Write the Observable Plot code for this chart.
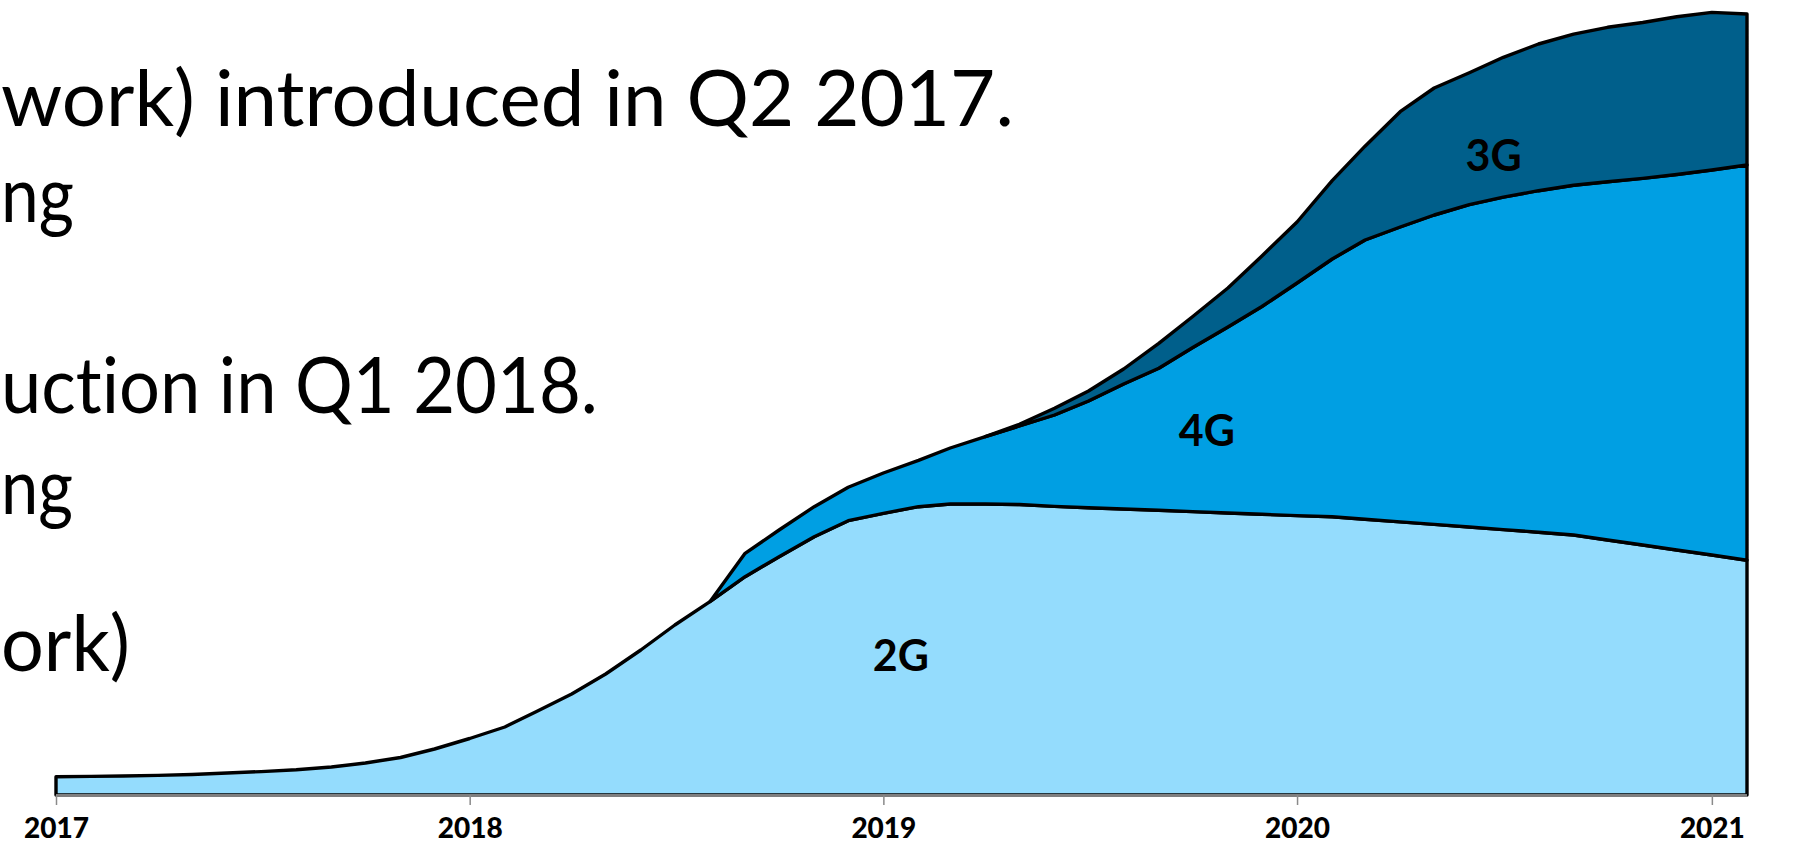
<!DOCTYPE html>
<html><head><meta charset="utf-8">
<script src="https://cdn.jsdelivr.net/npm/d3@7"></script>
<script src="https://cdn.jsdelivr.net/npm/@observablehq/plot@0.6"></script>
<style>
html,body{margin:0;padding:0;background:#fff;overflow:hidden}
#chart{position:relative;width:1797px;height:847px}
svg{overflow:visible}
svg text{font-variant-ligatures:none;font-feature-settings:"liga" 0,"clig" 0}
</style>
</head><body><div id="chart"></div>
<script>
// ---- data (arbitrary subscriber units) ----
const techs  = ["2G", "4G", "3G"];
const colors = ["#94DCFD", "#009FE3", "#005F8B"];
// monthly points, Jan 2017 .. Feb 2021
const months = d3.utcMonth.range(new Date(Date.UTC(2017, 0, 1)), new Date(Date.UTC(2021, 1, 2)));
const g2 = [18.3, 18.6, 19, 19.6, 20.5, 22, 23.4, 25.3, 28, 32,
            37.5, 46, 56.5, 68, 83.5, 101, 121, 145, 170, 193.3,
            218.3, 238.3, 258.3, 274.3, 281.7, 288.3, 291, 291, 290.5, 288.6,
            287.3, 286, 284.7, 283.4, 282, 280.7, 279.4, 278.3, 275.7, 273.1,
            270.6, 268, 265.4, 262.8, 260, 255, 250, 245, 240, 234.7];
const g4Start = 19; // Aug 2018
const g4 = [0, 23.4, 26.7, 30, 33.4, 40.3, 46.3, 56, 67.3, 78.5,
            91.4, 106.7, 125, 142, 164.1, 186, 207.8, 232.6, 257.7, 279.3,
            294.9, 309.4, 322.3, 332.4, 341.5, 349.8, 358.2, 366.6, 375.5, 385, 395.3];
const g3Start = 27; // Apr 2019
const g3 = [0, 1.7, 6.7, 10, 15, 25, 31, 39, 50.5, 61,
            78.3, 93.8, 115.3, 127, 131.9, 139.9, 146.7, 151, 154.5, 155.9,
            157.7, 157.6, 151];
const years = [2017, 2018, 2019, 2020, 2021];
const areaLabels = [
  {tech: "2G", date: "2019-01-16", value: 138},
  {tech: "4G", date: "2019-10-13", value: 363},
  {tech: "3G", date: "2020-06-22", value: 638}
];
const slideLines = [
  {text: "work) introduced in Q2 2017.", x: 1, right: 1014, baseline: 126},
  {text: "ng",                           x: 1, right: 74,   baseline: 222},
  {text: "uction in Q1 2018.",           x: 1, right: 598,  baseline: 413},
  {text: "ng",                           x: 1, right: 73,   baseline: 514},
  {text: "ork)",                         x: 1, right: 130,  baseline: 671}
];

// ---- build table ----
const rows = [];
g2.forEach((v, i) => rows.push({date: months[i], tech: "2G", value: v}));
g4.forEach((v, i) => rows.push({date: months[g4Start + i], tech: "4G", value: v}));
g3.forEach((v, i) => rows.push({date: months[g3Start + i], tech: "3G", value: v}));

const font = "Lato, 'Open Sans', 'DejaVu Sans', sans-serif";

const plot = Plot.plot({
  width: 1797, height: 847,
  marginLeft: 56, marginRight: 50, marginTop: 15, marginBottom: 52,
  style: {fontFamily: font, background: "transparent", overflow: "visible"},
  x: {type: "utc", domain: [months[0], months[months.length - 1]], axis: null},
  y: {domain: [0, 780], axis: null},
  color: {domain: techs, range: colors},
  marks: [
    Plot.areaY(rows, {x: "date", y: "value", z: "tech", fill: "tech", order: techs,
      stroke: "black", strokeWidth: 3.4, strokeLinejoin: "round", curve: "linear"}),
    Plot.ruleY([0], {stroke: "#7f7f7f", strokeWidth: 3}),
    Plot.axisX({ticks: years.map(y => new Date(Date.UTC(y, 0, 1))), tickFormat: d3.utcFormat("%Y"),
      tickSize: 10, tickPadding: 13, stroke: "#8a8a8a", strokeWidth: 1.5, fill: "black",
      fontSize: 28, fontWeight: 900}),
    Plot.text(areaLabels, {x: d => new Date(d.date), y: "value", text: "tech",
      fontSize: 43, fontWeight: "bold", fill: "black"})
  ]
});
document.getElementById("chart").appendChild(plot);

// ---- slide text behind the chart ----
const svg = d3.select(plot);
const g = svg.insert("g", ":first-child")
  .attr("font-family", font).attr("font-size", 78).attr("fill", "black")
  .attr("text-anchor", "start");
const texts = g.selectAll("text").data(slideLines).join("text")
  .attr("text-anchor", "start")
  .style("font-variant-ligatures", "none")
  .text(d => d.text);
texts.each(function(d) {
  const k = (d.right - d.x) / this.getComputedTextLength();
  d3.select(this).attr("transform", `translate(${d.x},${d.baseline}) scale(${k},1)`);
});
</script>
</body></html>
